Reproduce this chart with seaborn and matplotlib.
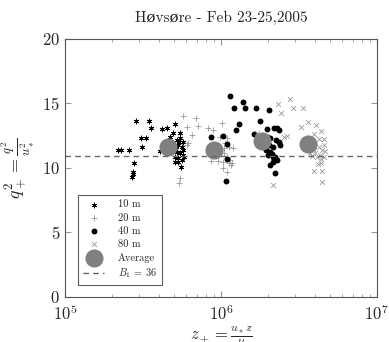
import numpy as np
import pandas as pd
import matplotlib
matplotlib.use("Agg")
import matplotlib.pyplot as plt
import seaborn as sns

# ---- data (z+ in units of 1e5, q+^2) ----
x10 = [2.20, 2.29, 2.58, 2.87, 3.48, 3.56, 3.06, 3.30, 3.12, 2.77, 2.73, 2.70, 2.73,
       4.17, 4.49, 5.08, 5.47, 4.95, 4.68, 4.07, 5.21, 5.47, 5.74, 5.08, 5.33, 5.61,
       4.95, 5.21, 5.47, 5.74, 5.08, 5.33, 5.61, 5.08, 5.33, 5.81, 5.55, 5.15, 5.74, 5.42]
y10 = [11.4, 11.4, 11.4, 13.67, 13.64, 13.13, 12.35, 12.35, 11.6, 10.36, 9.72, 9.33, 9.53,
       13.02, 13.13, 13.41, 12.74, 12.69, 12.43, 11.34, 12.17, 12.30, 12.04, 11.78, 11.78, 11.65,
       11.40, 11.27, 11.14, 11.01, 10.88, 10.75, 10.62, 10.49, 10.49, 10.88, 10.11, 11.65, 11.40, 12.04]

x20 = [5.74, 6.94, 6.10, 7.10, 6.56, 6.18, 6.04, 8.32, 8.95, 10.2, 9.89, 10.9, 10.6, 11.2,
       11.9, 9.89, 10.4, 10.9, 11.5, 10.3, 11.2, 11.6, 10.3, 10.9, 5.47, 5.42, 9.40, 10.4,
       11.7, 8.61, 9.64]
y20 = [14.03, 13.85, 13.20, 13.26, 12.56, 11.96, 11.78, 13.07, 12.94, 13.46, 12.43, 12.30,
       11.91, 11.65, 11.52, 11.40, 11.14, 10.88, 10.62, 10.44, 10.36, 10.23, 9.97, 9.72, 9.20,
       8.81, 11.01, 11.52, 10.36, 10.57, 10.57]

x40 = [11.5, 12.1, 13.9, 14.3, 16.7, 20.4, 13.1, 12.5, 17.9, 10.3, 8.61, 11.0, 16.2, 19.7,
       22.0, 22.8, 23.4, 19.7, 20.7, 22.6, 23.4, 20.2, 21.7, 19.5, 20.7, 19.9, 21.2, 22.3,
       22.8, 21.7, 20.5, 10.9, 10.8, 22.3, 24.0, 18.9, 21.7]
y40 = [15.61, 14.63, 15.09, 14.63, 14.63, 14.47, 13.39, 12.95, 13.67, 12.51, 12.43, 11.83,
       12.61, 13.02, 13.07, 13.07, 12.95, 12.43, 12.30, 12.17, 12.04, 11.78, 11.65, 11.40,
       11.27, 11.01, 11.09, 10.88, 10.62, 10.49, 10.23, 10.67, 8.99, 9.59, 11.78, 11.96, 10.83]

x80 = [23.1, 27.8, 24.3, 28.8, 33.5, 32.7, 35.9, 40.8, 43.7, 39.6, 42.8, 45.9, 25.2, 26.4,
       17.0, 45.5, 42.3, 39.3, 44.4, 46.6, 40.2, 43.3, 45.5, 41.2, 44.0, 41.6, 44.0, 39.3,
       44.4, 44.4, 21.5, 37.3, 38.6]
y80 = [14.94, 15.32, 14.24, 14.63, 14.63, 13.20, 13.59, 13.33, 12.89, 12.64, 12.25, 12.22,
       12.43, 12.48, 12.69, 11.78, 11.65, 11.40, 11.40, 11.34, 11.14, 11.01, 10.88, 10.83,
       10.67, 10.28, 10.36, 9.79, 9.79, 8.89, 8.66, 11.14, 10.93]

xavg = [4.60, 9.08, 18.3, 36.4]
yavg = [11.65, 11.40, 12.12, 11.86]

B1 = 36
q_b1 = B1 ** (2.0 / 3.0)

sns.set_style("ticks")
plt.rcParams['font.family'] = ['cmr10', 'DejaVu Serif']
plt.rcParams['mathtext.fontset'] = 'cm'
plt.rcParams['axes.formatter.use_mathtext'] = True

fig = plt.figure(figsize=(3.89, 3.42), dpi=100)
ax = fig.add_axes([0.167, 0.132, 0.802, 0.754])

def df(x, y):
    return pd.DataFrame({"z": np.array(x) * 1e5, "q": y})

sns.scatterplot(data=df(x10, y10), x="z", y="q", marker=(6, 2, 0), s=13, color="black",
                linewidth=0.6, edgecolor="black", ax=ax, label="10 m")
sns.scatterplot(data=df(x20, y20), x="z", y="q", marker="+", s=20, color="#9a9a9a",
                linewidth=0.6, ax=ax, label="20 m")
sns.scatterplot(data=df(x40, y40), x="z", y="q", marker="o", s=18, color="black",
                linewidth=0, ax=ax, label="40 m")
sns.scatterplot(data=df(x80, y80), x="z", y="q", marker="x", s=12, color="#9a9a9a",
                linewidth=0.6, ax=ax, label="80 m")
sns.scatterplot(data=df(xavg, yavg), x="z", y="q", marker="o", s=170, color="#808080",
                linewidth=0, ax=ax, label="Average")
ax.axhline(q_b1, color="#666666", linestyle=(0, (4, 3)), linewidth=1.0,
           label=r"$B_1\,=\,36$")

ax.set_xscale("log")
ax.set_xlim(1e5, 1e7)
ax.set_ylim(0, 20)
ax.set_yticks([0, 5, 10, 15, 20])
ax.tick_params(axis="both", which="both", direction="in", top=True, right=True,
               labelsize=12, color="#999999")
ax.tick_params(axis="x", which="major", pad=5)
ax.tick_params(which="major", length=4)
ax.tick_params(which="minor", length=2.5)
for sp in ax.spines.values():
    sp.set_color("#555555")
    sp.set_linewidth(0.8)

ax.set_xlabel(r"$z_+ = \frac{u_* z}{\nu}$", fontsize=12, labelpad=1)
ax.set_ylabel(r"$q_+^2 = \frac{q^2}{u_*^2}$", fontsize=13, labelpad=4)
ax.set_title("Høvsøre - Feb 23-25,2005", fontsize=11, pad=12)

leg = ax.legend(loc="lower left", fontsize=7.5, frameon=True, fancybox=False,
                borderpad=0.5, labelspacing=0.35, handletextpad=1.3, handlelength=2.0,
                bbox_to_anchor=(0.025, 0.025))
leg.get_frame().set_edgecolor("#333333")
leg.get_frame().set_linewidth(0.8)

fig.savefig("out.png", dpi=100)
